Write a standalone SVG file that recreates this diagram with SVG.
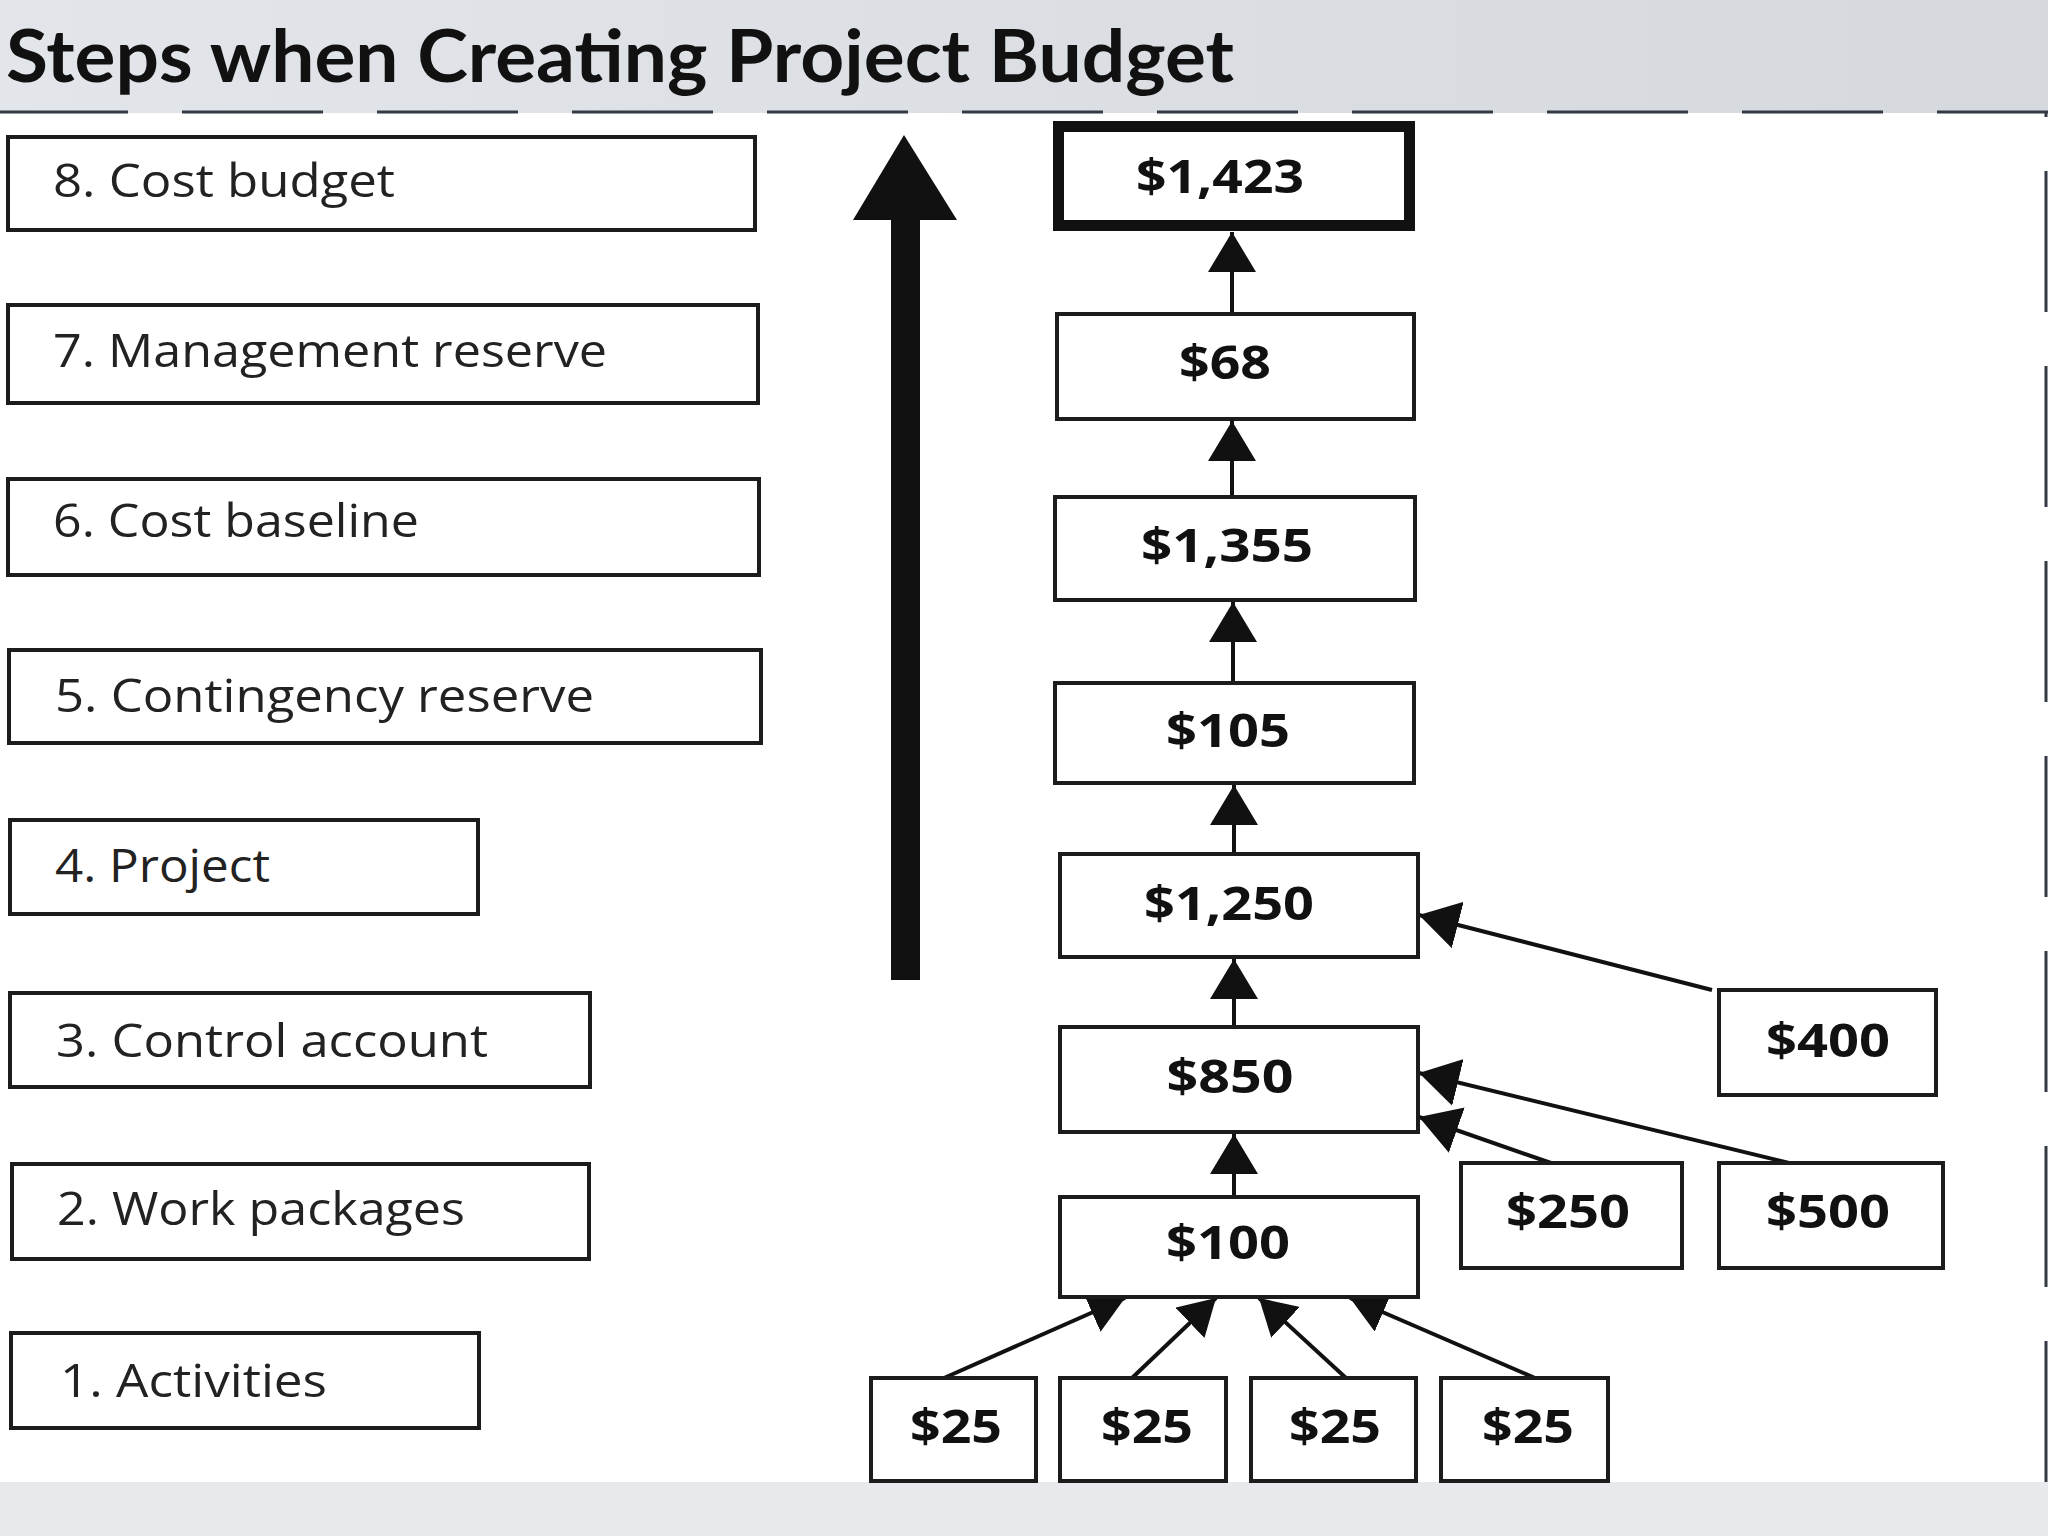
<svg xmlns="http://www.w3.org/2000/svg" width="2048" height="1536" viewBox="0 0 2048 1536">
<defs>
<linearGradient id="hdr" x1="0" y1="0" x2="1" y2="0">
<stop offset="0" stop-color="#e2e5e9"/>
<stop offset="1" stop-color="#d5d9de"/>
</linearGradient>
<marker id="ah" markerUnits="userSpaceOnUse" markerWidth="40" markerHeight="48" viewBox="0 0 40 48" refX="40" refY="24" orient="auto">
<path d="M0,0 L40,24 L0,48 z" fill="#111"/>
</marker>
<marker id="ahs" markerUnits="userSpaceOnUse" markerWidth="36" markerHeight="42" viewBox="0 0 36 42" refX="36" refY="21" orient="auto">
<path d="M0,0 L36,21 L0,42 z" fill="#111"/>
</marker>
</defs>
<style>
.box{fill:#fff;stroke:#1c1c1c;stroke-width:4}
.step{font-family:"Open Sans","Noto Sans","Liberation Sans",sans-serif;font-size:46px;fill:#222}
.val{font-family:"Open Sans","Noto Sans","Liberation Sans",sans-serif;font-size:46px;font-weight:700;fill:#111;text-anchor:middle}
.conn{stroke:#111;stroke-width:4;fill:none}
.dash{stroke:#333a44;stroke-width:3;fill:none;stroke-dasharray:141 54}
</style>
<rect x="0" y="0" width="2048" height="1536" fill="#fff"/>
<rect x="0" y="0" width="2048" height="113" fill="url(#hdr)"/>
<rect x="0" y="1482" width="2048" height="54" fill="#e7e9ed"/>
<line class="dash" x1="0" y1="112" x2="2048" y2="112" stroke-dashoffset="13"/>
<line class="dash" x1="2046" y1="113" x2="2046" y2="1482" stroke-dashoffset="137"/>
<text x="6" y="82" font-family="Lato,'Open Sans','Liberation Sans',sans-serif" font-weight="700" font-size="72" fill="#111" textLength="1228" lengthAdjust="spacingAndGlyphs">Steps when Creating Project Budget</text>

<g id="step8"><rect class="box" x="8" y="137" width="747" height="93"/><text class="step" x="53" y="197" textLength="342" lengthAdjust="spacingAndGlyphs">8. Cost budget</text></g>
<g id="step7"><rect class="box" x="8" y="305" width="750" height="98"/><text class="step" x="53" y="367" textLength="554" lengthAdjust="spacingAndGlyphs">7. Management reserve</text></g>
<g id="step6"><rect class="box" x="8" y="479" width="751" height="96"/><text class="step" x="53" y="537" textLength="366" lengthAdjust="spacingAndGlyphs">6. Cost baseline</text></g>
<g id="step5"><rect class="box" x="9" y="650" width="752" height="93"/><text class="step" x="55" y="712" textLength="539" lengthAdjust="spacingAndGlyphs">5. Contingency reserve</text></g>
<g id="step4"><rect class="box" x="10" y="820" width="468" height="94"/><text class="step" x="55" y="882" textLength="215" lengthAdjust="spacingAndGlyphs">4. Project</text></g>
<g id="step3"><rect class="box" x="10" y="993" width="580" height="94"/><text class="step" x="56" y="1057" textLength="432" lengthAdjust="spacingAndGlyphs">3. Control account</text></g>
<g id="step2"><rect class="box" x="12" y="1164" width="577" height="95"/><text class="step" x="57" y="1225" textLength="408" lengthAdjust="spacingAndGlyphs">2. Work packages</text></g>
<g id="step1"><rect class="box" x="11" y="1333" width="468" height="95"/><text class="step" x="60" y="1397" textLength="267" lengthAdjust="spacingAndGlyphs">1. Activities</text></g>

<g id="bigArrow">
<rect x="891" y="215" width="29" height="765" fill="#111"/>
<polygon points="904,135 853,220 957,220" fill="#111"/>
</g>

<g id="connectors">
<line class="conn" x1="1232" y1="314" x2="1232" y2="232" marker-end="url(#ah)"/>
<line class="conn" x1="1232" y1="497" x2="1232" y2="421" marker-end="url(#ah)"/>
<line class="conn" x1="1233" y1="683" x2="1233" y2="602" marker-end="url(#ah)"/>
<line class="conn" x1="1234" y1="854" x2="1234" y2="785" marker-end="url(#ah)"/>
<line class="conn" x1="1234" y1="1027" x2="1234" y2="959" marker-end="url(#ah)"/>
<line class="conn" x1="1234" y1="1197" x2="1234" y2="1134" marker-end="url(#ah)"/>
<line class="conn" x1="1712" y1="990" x2="1419" y2="915" marker-end="url(#ah)"/>
<line class="conn" x1="1789" y1="1163" x2="1419" y2="1073" marker-end="url(#ah)"/>
<line class="conn" x1="1551" y1="1163" x2="1419" y2="1117" marker-end="url(#ah)"/>
<line class="conn" x1="944" y1="1378" x2="1125" y2="1298" marker-end="url(#ahs)"/>
<line class="conn" x1="1132" y1="1378" x2="1216" y2="1298" marker-end="url(#ahs)"/>
<line class="conn" x1="1346" y1="1378" x2="1259" y2="1298" marker-end="url(#ahs)"/>
<line class="conn" x1="1535" y1="1378" x2="1350" y2="1298" marker-end="url(#ahs)"/>
</g>

<g id="v1423"><rect x="1058.5" y="126.5" width="351" height="99" fill="#fff" stroke="#111" stroke-width="11"/><text class="val" x="1220" y="193" textLength="168" lengthAdjust="spacingAndGlyphs">$1,423</text></g>
<g id="v68"><rect class="box" x="1057" y="314" width="357" height="105"/><text class="val" x="1225" y="379" textLength="92" lengthAdjust="spacingAndGlyphs">$68</text></g>
<g id="v1355"><rect class="box" x="1055" y="497" width="360" height="103"/><text class="val" x="1227" y="562" textLength="172" lengthAdjust="spacingAndGlyphs">$1,355</text></g>
<g id="v105"><rect class="box" x="1055" y="683" width="359" height="100"/><text class="val" x="1228" y="747" textLength="124" lengthAdjust="spacingAndGlyphs">$105</text></g>
<g id="v1250"><rect class="box" x="1060" y="854" width="358" height="103"/><text class="val" x="1229" y="920" textLength="170" lengthAdjust="spacingAndGlyphs">$1,250</text></g>
<g id="v850"><rect class="box" x="1060" y="1027" width="358" height="105"/><text class="val" x="1230" y="1093" textLength="127" lengthAdjust="spacingAndGlyphs">$850</text></g>
<g id="v100"><rect class="box" x="1060" y="1197" width="358" height="100"/><text class="val" x="1228" y="1259" textLength="124" lengthAdjust="spacingAndGlyphs">$100</text></g>
<g id="v400"><rect class="box" x="1719" y="990" width="217" height="105"/><text class="val" x="1828" y="1057" textLength="124" lengthAdjust="spacingAndGlyphs">$400</text></g>
<g id="v250"><rect class="box" x="1461" y="1163" width="221" height="105"/><text class="val" x="1568" y="1228" textLength="124" lengthAdjust="spacingAndGlyphs">$250</text></g>
<g id="v500"><rect class="box" x="1719" y="1163" width="224" height="105"/><text class="val" x="1828" y="1228" textLength="124" lengthAdjust="spacingAndGlyphs">$500</text></g>
<g id="v25a"><rect class="box" x="871" y="1378" width="165" height="103"/><text class="val" x="956" y="1443" textLength="92" lengthAdjust="spacingAndGlyphs">$25</text></g>
<g id="v25b"><rect class="box" x="1060" y="1378" width="166" height="103"/><text class="val" x="1147" y="1443" textLength="92" lengthAdjust="spacingAndGlyphs">$25</text></g>
<g id="v25c"><rect class="box" x="1251" y="1378" width="165" height="103"/><text class="val" x="1335" y="1443" textLength="92" lengthAdjust="spacingAndGlyphs">$25</text></g>
<g id="v25d"><rect class="box" x="1441" y="1378" width="167" height="103"/><text class="val" x="1528" y="1443" textLength="92" lengthAdjust="spacingAndGlyphs">$25</text></g>
</svg>
